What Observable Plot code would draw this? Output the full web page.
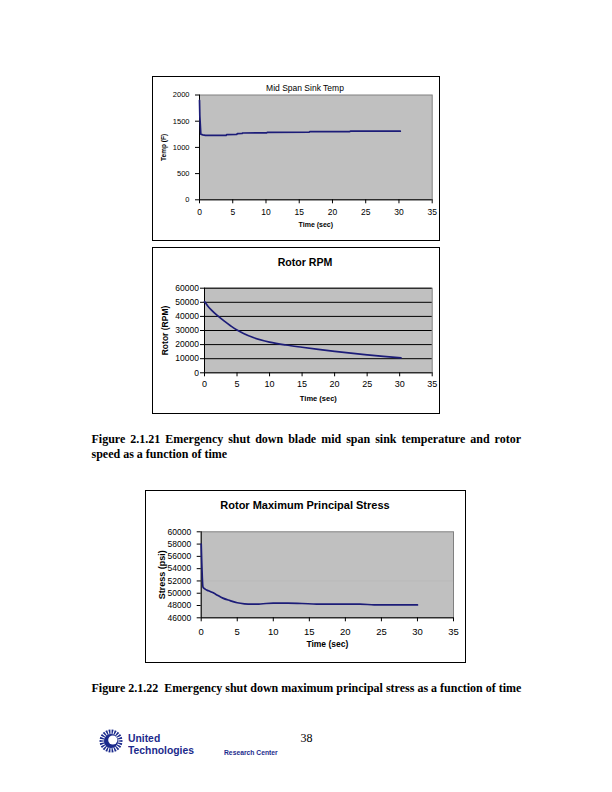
<!DOCTYPE html>
<html><head><meta charset="utf-8">
<script src="https://cdn.jsdelivr.net/npm/d3@7"></script>
<script src="https://cdn.jsdelivr.net/npm/@observablehq/plot@0.6"></script>
<style>
body{margin:0;background:#fff;}
#page{position:relative;width:612px;height:792px;overflow:hidden;background:#fff;font-family:"Liberation Sans",Arial,sans-serif;}
.plotwrap{position:absolute;}
.plotwrap svg{display:block;overflow:visible;}
.box{position:absolute;border:1px solid #000;box-sizing:border-box;pointer-events:none;}
.title{position:absolute;left:0;width:610px;text-align:center;line-height:1;color:#000;white-space:nowrap;}
.cap{position:absolute;font-family:"Liberation Serif","Times New Roman",serif;font-weight:bold;font-size:12px;line-height:14px;color:#000;}
.logo{position:absolute;color:#1b2a8c;font-family:"Liberation Sans Narrow","Arial Narrow","Liberation Sans",sans-serif;font-weight:bold;line-height:1;white-space:nowrap;transform-origin:0 50%;}
</style></head>
<body><div id="page"></div>
<script>
// ---- Data ----
const timeTicks = [0, 5, 10, 15, 20, 25, 30, 35];

// Mid Span Sink Temp
const tempTime = [0, 0.05, 0.2, 0.5, 0.9, 4.0, 4.1, 5.6, 5.7, 6.4, 6.5, 10.1, 10.2, 16.5, 16.6, 22.6, 22.7, 30.2];
const tempVal  = [1900, 1600, 1250, 1238, 1230, 1230, 1245, 1248, 1262, 1265, 1275, 1277, 1288, 1290, 1300, 1302, 1310, 1310];
const tempTicks = [0, 500, 1000, 1500, 2000];

// Rotor RPM
const rpmTime = [0, 0.5, 1, 2, 3, 4, 5, 6, 7.5, 10, 12.5, 15, 17.5, 20, 22.5, 25, 27.5, 30.2];
const rpmVal  = [50500, 47400, 44800, 40500, 36800, 33400, 30300, 27900, 25000, 21800, 19700, 18100, 16600, 15200, 13900, 12700, 11600, 10600];
const rpmTicks = [0, 10000, 20000, 30000, 40000, 50000, 60000];

// Rotor Maximum Principal Stress
const stressTime = [0, 0.25, 0.5, 1, 1.5, 2, 3, 4, 5, 6, 7, 8, 9, 10, 12, 14, 16, 18, 20, 22, 24, 26, 28, 30];
const stressVal  = [58000, 51000, 50700, 50400, 50150, 49850, 49200, 48800, 48450, 48280, 48220, 48230, 48330, 48380, 48380, 48330, 48230, 48220, 48220, 48220, 48120, 48100, 48100, 48100];
const stressTicks = [46000, 48000, 50000, 52000, 54000, 56000, 58000, 60000];
const stressFaintGrid = [52000];

const page = document.getElementById("page");
const FONT = "Liberation Sans, Arial, sans-serif";
const LINE = "#1c1c78";

function makeChart(o) {
  const data = o.t.map((t, i) => ({t, v: o.v[i]}));
  const svg = Plot.plot({
    width: o.w, height: o.h,
    marginLeft: o.ml, marginRight: o.mr, marginTop: o.mt, marginBottom: o.mb,
    x: {domain: [0, 35]},
    y: {domain: o.yDomain},
    style: {fontFamily: FONT, fontSize: "8px", color: "#000", background: "transparent", overflow: "visible"},
    marks: [
      Plot.frame({fill: "#c0c0c0", stroke: "#808080"}),
      o.faint ? Plot.ruleY(o.faint, {stroke: "#b9b9b9", strokeWidth: 1}) : null,
      o.grid ? Plot.ruleY(o.grid, {stroke: "#000", strokeWidth: 1}) : null,
      Plot.ruleX([0], {stroke: "#000"}),
      Plot.ruleY([o.yDomain[0]], {stroke: "#000"}),
      Plot.axisX(timeTicks, {tickSize: 4, tickPadding: o.xPad, label: null, fontSize: o.xFont, tickFormat: d => String(d)}),
      Plot.axisY(o.yTicks, {tickSize: 4, tickPadding: o.yPad, label: null, fontSize: o.yFont, tickFormat: d => String(d)}),
      Plot.line(data, {x: "t", y: "v", stroke: LINE, strokeWidth: 1.7, curve: o.curve}),
      Plot.text([o.xLabel], {text: d => d, frameAnchor: "bottom", textAnchor: "middle", dy: o.xLabelDy, fontWeight: "bold", fontSize: o.labelFont}),
      Plot.text([o.yLabel], {text: d => d, frameAnchor: "left", textAnchor: "middle", lineAnchor: "middle", dx: o.yLabelDx, rotate: -90, fontWeight: "bold", fontSize: o.yLabelFont || o.labelFont})
    ]
  });
  const wrap = document.createElement("div");
  wrap.className = "plotwrap";
  wrap.style.left = o.x + "px"; wrap.style.top = o.y + "px";
  wrap.appendChild(svg);
  page.appendChild(wrap);
  const box = document.createElement("div");
  box.className = "box";
  Object.assign(box.style, {left: o.x + "px", top: o.y + "px", width: o.w + "px", height: o.h + "px"});
  page.appendChild(box);
  const title = document.createElement("div");
  title.className = "title";
  title.textContent = o.title;
  Object.assign(title.style, {top: (o.titleY - o.titleFont / 2) + "px", fontSize: o.titleFont + "px", fontWeight: o.titleBold ? "bold" : "normal"});
  page.appendChild(title);
}

makeChart({
  x: 152, y: 76, w: 288, h: 165, ml: 47, mr: 8.3, mt: 18.5, mb: 41.7,
  t: tempTime, v: tempVal, yDomain: [0, 2000], yTicks: tempTicks, curve: "linear",
  xPad: 5, yPad: 6, xFont: 8.5, yFont: 7.5,
  xLabel: "Time (sec)", yLabel: "Temp (F)", xLabelDy: 27.5, yLabelDx: -36, labelFont: 7, yLabelFont: 6.5,
  title: "Mid Span Sink Temp", titleY: 88, titleFont: 8.5, titleBold: false
});

makeChart({
  x: 152, y: 247, w: 288, h: 167, ml: 52, mr: 8.3, mt: 40.7, mb: 41.7,
  t: rpmTime, v: rpmVal, yDomain: [0, 60000], yTicks: rpmTicks, grid: rpmTicks.slice(1), curve: "monotone-x",
  xPad: 4, yPad: 1.5, xFont: 9, yFont: 8.5,
  xLabel: "Time (sec)", yLabel: "Rotor (RPM)", xLabelDy: 28, yLabelDx: -39, labelFont: 7.5, yLabelFont: 8.5,
  title: "Rotor RPM", titleY: 262, titleFont: 10.6, titleBold: true
});

makeChart({
  x: 145, y: 490, w: 321, h: 173, ml: 55.7, mr: 13, mt: 41.3, mb: 45.7,
  t: stressTime, v: stressVal, yDomain: [46000, 60000], yTicks: stressTicks, faint: stressFaintGrid, curve: "monotone-x",
  xPad: 6, yPad: 6, xFont: 9.5, yFont: 8.5,
  xLabel: "Time (sec)", yLabel: "Stress (psi)", xLabelDy: 29, yLabelDx: -39, labelFont: 8.5, yLabelFont: 9,
  title: "Rotor Maximum Principal Stress", titleY: 505, titleFont: 11, titleBold: true
});

// ---- Captions ----
const cap1 = document.createElement("div");
cap1.className = "cap";
Object.assign(cap1.style, {left: "91.5px", top: "431.5px", width: "429.5px", lineHeight: "15px", textAlign: "justify", textAlignLast: "left"});
cap1.textContent = "Figure 2.1.21 Emergency shut down blade mid span sink temperature and rotor speed as a function of time";
page.appendChild(cap1);

const cap2 = document.createElement("div");
cap2.className = "cap";
Object.assign(cap2.style, {left: "91.5px", top: "681px", whiteSpace: "pre"});
cap2.textContent = "Figure 2.1.22  Emergency shut down maximum principal stress as a function of time";
page.appendChild(cap2);

const pn = document.createElement("div");
pn.className = "cap";
Object.assign(pn.style, {left: "300.5px", top: "731px", fontWeight: "normal"});
pn.textContent = "38";
page.appendChild(pn);

// ---- Footer logo ----
const logoSvg = d3.create("svg").attr("width", 30).attr("height", 30)
  .style("position", "absolute").style("left", "96px").style("top", "726px");
const g = logoSvg.append("g").attr("transform", "translate(15,15)");
const nRays = 22;
for (let i = 0; i < nRays; i++) {
  const a = (i / nRays) * 2 * Math.PI;
  const a1 = a - 0.06, a2 = a + 0.06;
  const r0 = 6, r1 = 11.5;
  g.append("path")
    .attr("d", `M${r0*Math.cos(a1)},${r0*Math.sin(a1)}L${r1*Math.cos(a1-0.03)},${r1*Math.sin(a1-0.03)}L${r1*Math.cos(a2+0.03)},${r1*Math.sin(a2+0.03)}L${r0*Math.cos(a2)},${r0*Math.sin(a2)}Z`)
    .attr("fill", "#1b2a8c");
}
g.append("circle").attr("r", 7).attr("fill", "#1b2a8c");
g.append("circle").attr("cx", 1.8).attr("cy", -1).attr("r", 4.6).attr("fill", "#fff");
page.appendChild(logoSvg.node());

const l1 = document.createElement("div");
l1.className = "logo";
Object.assign(l1.style, {left: "127.5px", top: "733px", fontSize: "11.5px", transform: "scaleX(0.9)"});
l1.textContent = "United";
page.appendChild(l1);
const l2 = document.createElement("div");
l2.className = "logo";
Object.assign(l2.style, {left: "127.5px", top: "744.6px", fontSize: "11.5px", transform: "scaleX(0.9)"});
l2.textContent = "Technologies";
page.appendChild(l2);
const l3 = document.createElement("div");
l3.className = "logo";
Object.assign(l3.style, {left: "224px", top: "748.5px", fontSize: "7.5px", transform: "scaleX(0.9)"});
l3.textContent = "Research Center";
page.appendChild(l3);
</script>
</body></html>
